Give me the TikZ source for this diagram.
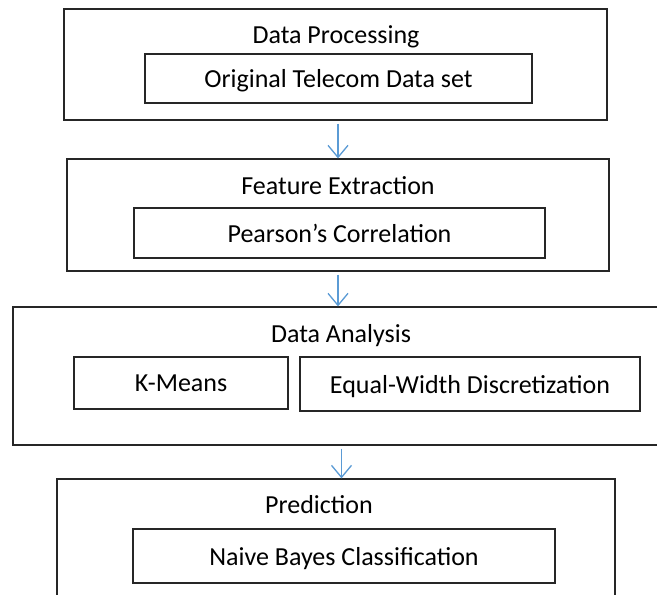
\documentclass[tikz,border=0pt]{standalone}
\usepackage{fontspec}
\setmainfont{Carlito}
\usetikzlibrary{arrows.meta}
\definecolor{flowblue}{RGB}{91,155,213}
\tikzset{
	outerbox/.style={draw=black!85, line width=1.3pt, inner sep=0pt},
	innerbox/.style={draw=black!85, line width=1.1pt, inner sep=0pt, text depth=0pt},
	title/.style={text depth=0pt},
	flow/.style={draw=flowblue, line width=1.3pt, shorten <=3pt, -{Straight Barb[length=12pt,width=20pt,line width=1.3pt]}}
}

\begin{document}
\begin{tikzpicture}[x=1pt,y=-1pt,font=\fontsize{26}{31}\selectfont]
\useasboundingbox (0,0) rectangle (657,595);
\clip (0,0) rectangle (657,595);

% stage boxes
\node[outerbox, minimum width=543pt, minimum height=111pt] (proc) at (335.5,64.5) {};
\node[outerbox, minimum width=542pt, minimum height=112pt] (feat) at (338,215) {};
\node[outerbox, minimum width=657pt, minimum height=138pt] (ana) at (341.5,376) {};
\node[outerbox, minimum width=558pt, minimum height=141pt] (pred) at (336,549.5) {};

% titles
\node[title] (procT) at (336,35) {Data Processing};
\node[title] (featT) at (338,186) {Feature Extraction};
\node[title] (anaT) at (341,333) {Data Analysis};
\node[title] (predT) at (319,504) {Prediction};

% steps
\node[innerbox, minimum width=387pt, minimum height=49pt] (data) at (338.5,78.5) {Original Telecom Data set};
\node[innerbox, minimum width=411pt, minimum height=50pt] (pear) at (339.5,233) {Pearson’s Correlation};
\node[innerbox, minimum width=214pt, minimum height=52pt] (kmeans) at (181,383) {K-Means};
\node[innerbox, minimum width=340pt, minimum height=54pt] (ewd) at (470,384) {Equal-Width Discretization};
\node[innerbox, minimum width=422pt, minimum height=54pt] (nbc) at (344,556) {Naive Bayes Classification};

\draw[flow] (proc.south -| feat.north) -- (feat.north);
\draw[flow] (feat.south) -- (feat.south |- ana.north);
\draw[flow] (ana.south) -- (ana.south |- pred.north);
\end{tikzpicture}
\end{document}
